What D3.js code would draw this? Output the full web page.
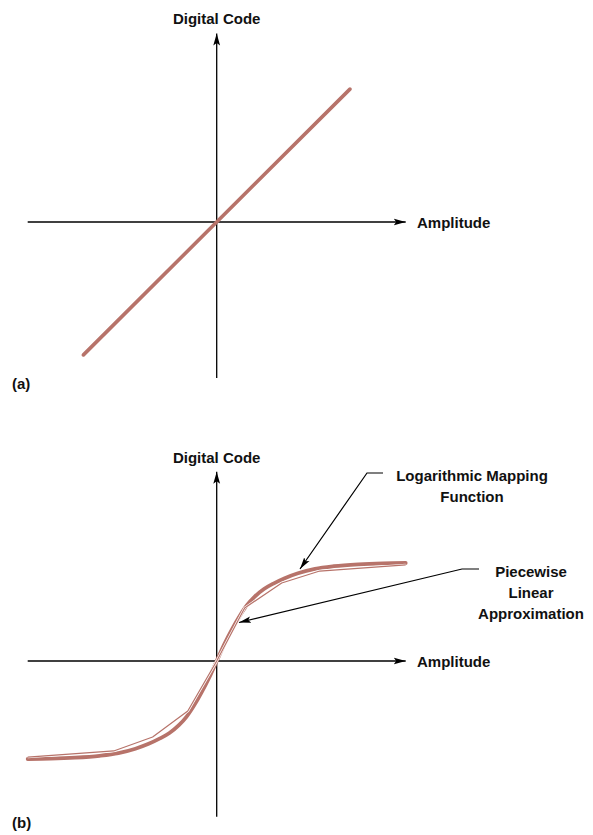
<!DOCTYPE html>
<html><head><meta charset="utf-8">
<script src="https://cdn.jsdelivr.net/npm/d3@7"></script>
<style>
body{margin:0;background:#fff}
text{font-family:"Liberation Sans",Arial,sans-serif;font-weight:bold;font-size:15px;fill:#111}
</style>
</head><body>
<svg id="chart" width="593" height="835"></svg>
<script>
// ---- data (normalised amplitude / digital code) ----
const linearAmp  = [-0.705, 0.705];
const linearCode = [-0.705, 0.705];

const logAmp  = [-1.0,-0.88,-0.75,-0.62,-0.52,-0.43,-0.36,-0.30,-0.25,-0.20,-0.16,-0.12,-0.08,-0.04,0,
                 0.04,0.08,0.12,0.16,0.20,0.25,0.30,0.36,0.43,0.52,0.62,0.75,0.88,1.0];
const logCode = [-1.0,-0.996,-0.986,-0.967,-0.94,-0.895,-0.845,-0.79,-0.735,-0.655,-0.57,-0.455,-0.32,-0.17,0,
                 0.17,0.32,0.455,0.57,0.655,0.735,0.79,0.845,0.895,0.94,0.967,0.986,0.996,1.0];

const pwAmp  = [-1.0,-0.545,-0.339,-0.153,0,0.148,0.344,0.545,1.0];
const pwCode = [-0.98,-0.918,-0.776,-0.51,0,0.541,0.796,0.918,0.98];

const axisLabelsX = ["Amplitude","Amplitude"];
const axisLabelsY = ["Digital Code","Digital Code"];
const panelLabels = ["(a)","(b)"];
const logNote = ["Logarithmic Mapping","Function"];
const pwNote  = ["Piecewise","Linear","Approximation"];

// ---- drawing ----
const svg = d3.select("#chart");
const curveColor = "#b7736a";
const defs = svg.append("defs");
defs.append("marker").attr("id","arr").attr("viewBox","0 0 12 8")
  .attr("refX",12).attr("refY",4).attr("markerWidth",12).attr("markerHeight",8)
  .attr("markerUnits","userSpaceOnUse").attr("orient","auto")
  .append("path").attr("d","M0,0.6 L12,4 L0,7.4 L2.5,4 Z").attr("fill","#000");
defs.append("marker").attr("id","arr2").attr("viewBox","0 0 12 8")
  .attr("refX",12).attr("refY",4).attr("markerWidth",12).attr("markerHeight",8)
  .attr("markerUnits","userSpaceOnUse").attr("orient","auto")
  .append("path").attr("d","M0,0.8 L12,4 L0,7.2 L2.5,4 Z").attr("fill","#000");

const x = d3.scaleLinear().domain([-1,1]).range([27.7,405.7]);

// Panel (a)
const ya = d3.scaleLinear().domain([-1,1]).range([410.5,33.5]);
const ga = svg.append("g");
ga.append("line").attr("x1",x(-1)).attr("x2",x(1)).attr("y1",ya(0)).attr("y2",ya(0))
  .attr("stroke","#000").attr("stroke-width",1.3).attr("marker-end","url(#arr)");
ga.append("line").attr("x1",x(0)).attr("x2",x(0)).attr("y1",ya(-0.828)).attr("y2",ya(1))
  .attr("stroke","#000").attr("stroke-width",1.3).attr("marker-end","url(#arr)");
ga.append("path").datum(d3.zip(linearAmp,linearCode))
  .attr("d",d3.line().x(d=>x(d[0])).y(d=>ya(d[1])))
  .attr("fill","none").attr("stroke",curveColor).attr("stroke-width",3.6).attr("stroke-linecap","round");
ga.append("text").attr("x",x(0)).attr("y",24).attr("text-anchor","middle").text(axisLabelsY[0]);
ga.append("text").attr("x",417).attr("y",ya(0)+5.5).text(axisLabelsX[0]);
ga.append("text").attr("x",12).attr("y",389).text(panelLabels[0]);

// Panel (b)
const yb = d3.scaleLinear().domain([-1,1]).range([759,563]);
const gb = svg.append("g");
gb.append("line").attr("x1",x(-1)).attr("x2",x(1)).attr("y1",yb(0)).attr("y2",yb(0))
  .attr("stroke","#000").attr("stroke-width",1.3).attr("marker-end","url(#arr)");
gb.append("line").attr("x1",x(0)).attr("x2",x(0)).attr("y1",yb(-1.59)).attr("y2",yb(1.93))
  .attr("stroke","#000").attr("stroke-width",1.3).attr("marker-end","url(#arr)");

gb.append("path").datum(d3.zip(logAmp,logCode))
  .attr("d",d3.line().x(d=>x(d[0])).y(d=>yb(d[1])).curve(d3.curveMonotoneX))
  .attr("fill","none").attr("stroke",curveColor).attr("stroke-width",3.8).attr("stroke-linecap","round");
const lineP = d3.line().x(d=>x(d[0])).y(d=>yb(d[1]));
gb.append("path").datum(d3.zip(pwAmp,pwCode)).attr("d",lineP)
  .attr("fill","none").attr("stroke","#fff").attr("stroke-width",2.6).attr("stroke-linejoin","round");
gb.append("path").datum(d3.zip(pwAmp,pwCode)).attr("d",lineP)
  .attr("fill","none").attr("stroke",curveColor).attr("stroke-width",1.2).attr("stroke-linejoin","round");

gb.append("text").attr("x",x(0)).attr("y",463).attr("text-anchor","middle").text(axisLabelsY[1]);
gb.append("text").attr("x",417).attr("y",yb(0)+5.5).text(axisLabelsX[1]);
gb.append("text").attr("x",12).attr("y",828).text(panelLabels[1]);

// annotations
gb.append("path").attr("d","M383,473 L367,473 L300,569").attr("fill","none")
  .attr("stroke","#000").attr("stroke-width",1.2).attr("marker-end","url(#arr2)");
gb.append("path").attr("d","M479,569 L462,569 L239,622.5").attr("fill","none")
  .attr("stroke","#000").attr("stroke-width",1.2).attr("marker-end","url(#arr2)");
logNote.forEach((t,i)=>gb.append("text").attr("x",472).attr("y",481+i*20.5).attr("text-anchor","middle").text(t));
pwNote.forEach((t,i)=>gb.append("text").attr("x",531).attr("y",577+i*21).attr("text-anchor","middle").text(t));
</script>
</body></html>
